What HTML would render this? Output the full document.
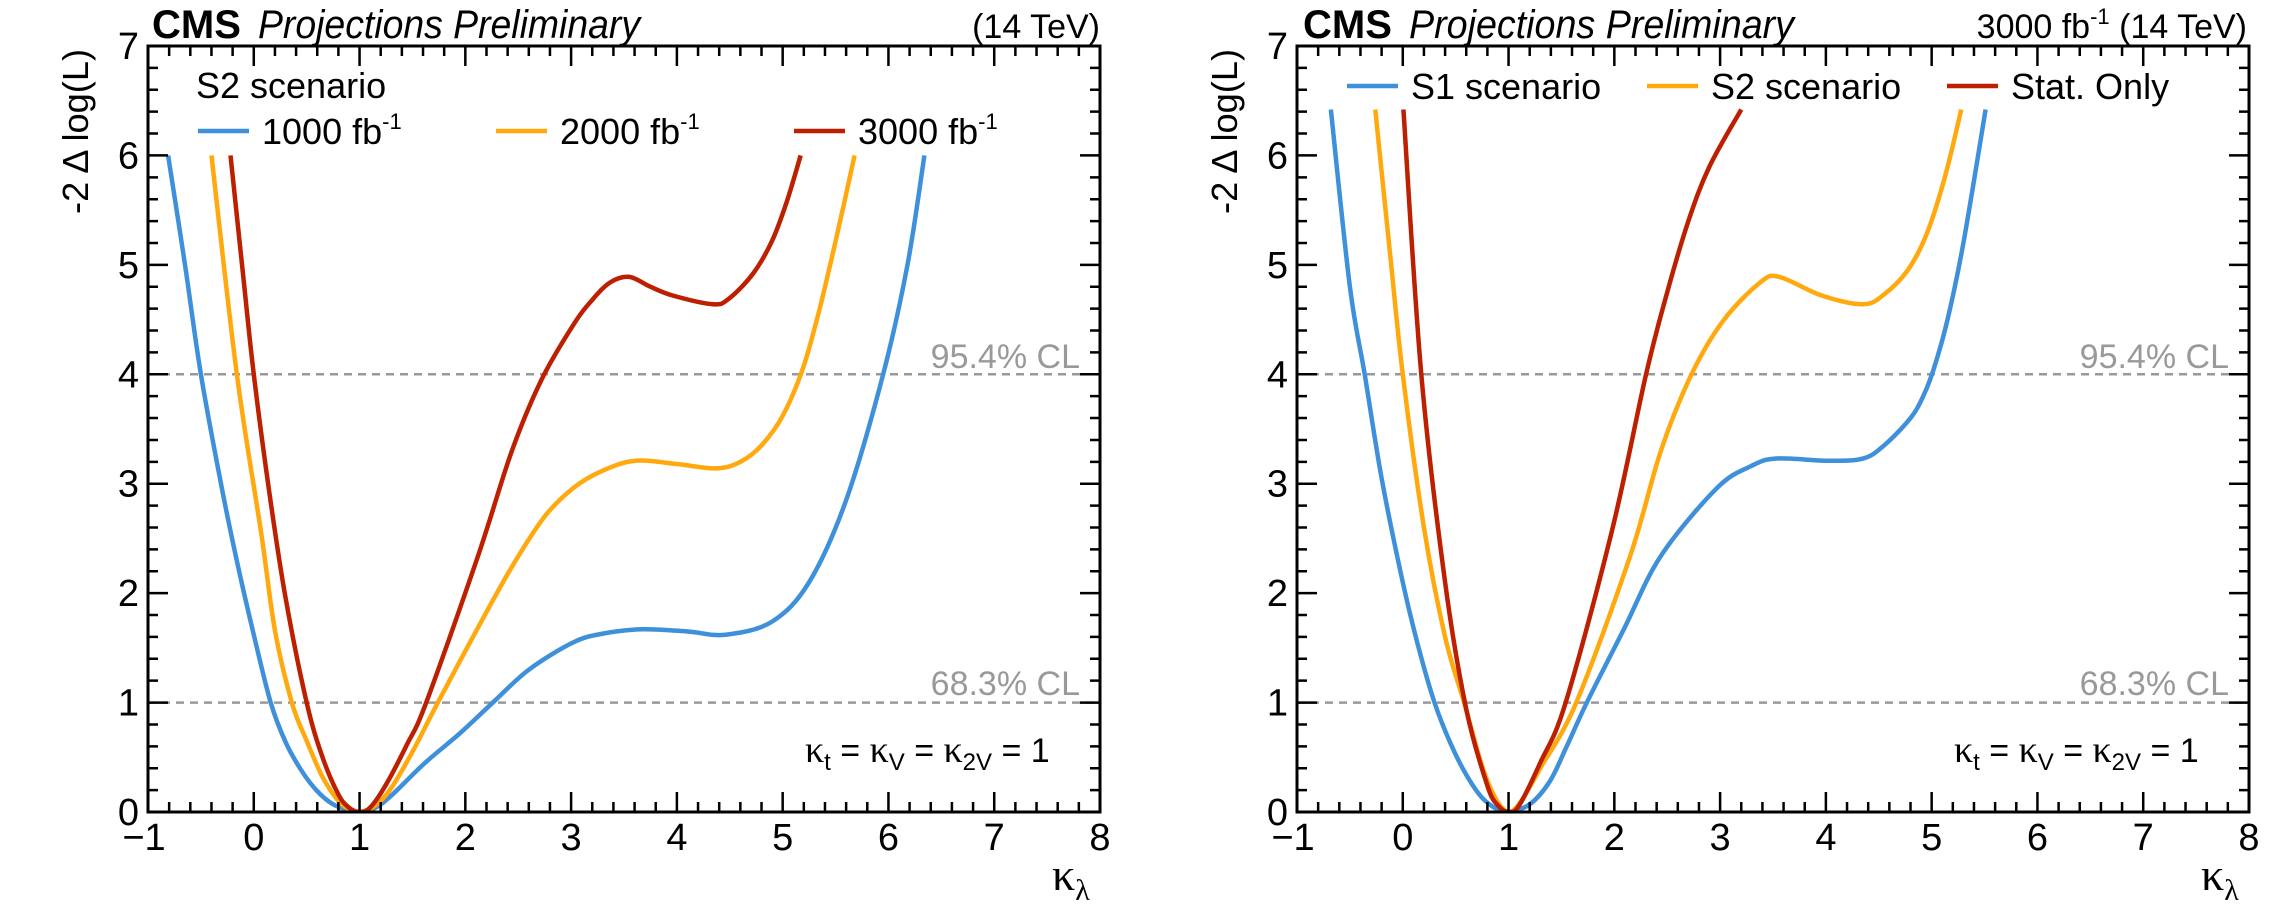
<!DOCTYPE html>
<html><head><meta charset="utf-8"><style>
html,body{margin:0;padding:0;background:#fff;}
svg{display:block;font-family:"Liberation Sans",Arial,sans-serif;}
</style></head><body>
<svg id="fig" width="2284" height="908" viewBox="0 0 2284 908" xmlns="http://www.w3.org/2000/svg">
<rect x="0" y="0" width="2284" height="908" fill="#fff"/>
<g id="layer"></g>

<text x="152" y="38" font-size="40" font-weight="bold">CMS</text>
<text x="258" y="38" font-size="40" font-style="italic" textLength="382" lengthAdjust="spacingAndGlyphs">Projections Preliminary</text>
<text x="1100" y="38" font-size="34" text-anchor="end">(14 TeV)</text>
<text transform="translate(88,49) rotate(-90)" font-size="36" text-anchor="end" textLength="165" lengthAdjust="spacingAndGlyphs">-2 Δ log(L)</text>
<text x="1052" y="890" font-size="46" font-family="Liberation Serif,serif">κ<tspan font-size="30" dy="10">λ</tspan></text>
<text x="196" y="98" font-size="36">S2 scenario</text>
<text x="1080" y="368" font-size="34" fill="#999" text-anchor="end">95.4% CL</text>
<text x="1080" y="695" font-size="34" fill="#999" text-anchor="end">68.3% CL</text>
<text x="805" y="762" font-size="34"><tspan font-family="Liberation Serif,serif" font-size="38">κ</tspan><tspan font-size="24" dy="8">t</tspan><tspan dy="-8"> = </tspan><tspan font-family="Liberation Serif,serif" font-size="38">κ</tspan><tspan font-size="24" dy="8">V</tspan><tspan dy="-8"> = </tspan><tspan font-family="Liberation Serif,serif" font-size="38">κ</tspan><tspan font-size="24" dy="8">2V</tspan><tspan dy="-8"> = 1</tspan></text>

<text x="1303" y="38" font-size="40" font-weight="bold">CMS</text>
<text x="1409" y="38" font-size="40" font-style="italic" textLength="385" lengthAdjust="spacingAndGlyphs">Projections Preliminary</text>
<text x="2247" y="38" font-size="34" text-anchor="end">3000 fb<tspan font-size="22" dy="-14">-1</tspan><tspan dy="14"> (14 TeV)</tspan></text>
<text transform="translate(1237,49) rotate(-90)" font-size="36" text-anchor="end" textLength="165" lengthAdjust="spacingAndGlyphs">-2 Δ log(L)</text>
<text x="2201" y="890" font-size="46" font-family="Liberation Serif,serif">κ<tspan font-size="30" dy="10">λ</tspan></text>
<text x="2229" y="368" font-size="34" fill="#999" text-anchor="end">95.4% CL</text>
<text x="2229" y="695" font-size="34" fill="#999" text-anchor="end">68.3% CL</text>
<text x="1954" y="762" font-size="34"><tspan font-family="Liberation Serif,serif" font-size="38">κ</tspan><tspan font-size="24" dy="8">t</tspan><tspan dy="-8"> = </tspan><tspan font-family="Liberation Serif,serif" font-size="38">κ</tspan><tspan font-size="24" dy="8">V</tspan><tspan dy="-8"> = </tspan><tspan font-family="Liberation Serif,serif" font-size="38">κ</tspan><tspan font-size="24" dy="8">2V</tspan><tspan dy="-8"> = 1</tspan></text>
</svg>
<script>
// ---- data ----
const xTicks = [-1,0,1,2,3,4,5,6,7,8];
const yTicks = [0,1,2,3,4,5,6,7];
const clLevels = [1,4];

const leftBlueX = [-0.81,-0.65,-0.5,-0.3,-0.15,0.0,0.16,0.3,0.45,0.6,0.75,0.9,1.0,1.15,1.3,1.62,1.95,2.26,2.6,3.02,3.3,3.67,4.1,4.46,4.9,5.25,5.6,5.95,6.18,6.34];
const leftBlueY = [6,5.0,4.0,2.95,2.25,1.62,1.0,0.64,0.38,0.19,0.07,0.015,0,0.04,0.15,0.45,0.72,1,1.3,1.55,1.63,1.67,1.65,1.62,1.74,2.1,2.85,4,5.0,6];
const leftOrangeX = [-0.40,-0.16,0.07,0.2,0.36,0.5,0.65,0.8,0.9,1.0,1.15,1.3,1.5,1.74,2.1,2.44,2.75,3.02,3.3,3.61,4.0,4.37,4.6,4.8,5.0,5.19,5.35,5.52,5.68];
const leftOrangeY = [6,4,2.55,1.66,1,0.65,0.32,0.1,0.03,0,0.06,0.22,0.55,1,1.65,2.24,2.7,2.96,3.12,3.21,3.18,3.14,3.2,3.35,3.62,4.05,4.6,5.3,6];
const leftRedX = [-0.22,-0.1,0.0,0.15,0.3,0.5,0.65,0.8,0.9,1.0,1.1,1.25,1.45,1.63,2.12,2.44,2.72,3.02,3.2,3.37,3.55,3.75,3.96,4.34,4.49,4.72,4.9,5.04,5.17];
const leftRedY = [6,4.9,4,2.9,1.96,1,0.5,0.16,0.04,0,0.04,0.25,0.62,1,2.34,3.3,3.95,4.45,4.68,4.84,4.89,4.8,4.72,4.64,4.69,4.92,5.22,5.58,6];

const rightBlueX = [-0.68,-0.5,-0.36,-0.2,0.0,0.15,0.3,0.45,0.6,0.75,0.9,1.0,1.2,1.39,1.55,1.74,2.09,2.44,2.97,3.29,3.53,4.02,4.35,4.55,4.8,4.92,5.02,5.15,5.3,5.51];
const rightBlueY = [6.42,4.8,4.0,3.05,2.1,1.5,1.0,0.63,0.34,0.13,0.02,0,0.07,0.28,0.6,1,1.67,2.34,2.96,3.16,3.23,3.21,3.23,3.35,3.6,3.8,4.05,4.5,5.2,6.42];
const rightOrangeX = [-0.26,-0.12,0.0,0.2,0.4,0.58,0.75,0.88,1.0,1.12,1.3,1.64,2.15,2.44,2.73,3.03,3.38,3.56,3.96,4.35,4.55,4.78,4.96,5.13,5.28];
const rightOrangeY = [6.42,5.1,4,2.6,1.6,1,0.42,0.12,0,0.1,0.4,1,2.34,3.3,4,4.49,4.84,4.89,4.72,4.64,4.73,4.96,5.3,5.82,6.42];
const rightRedX = [0.006,0.175,0.4,0.6,0.8,0.9,1.0,1.1,1.3,1.54,1.98,2.3,2.5,2.7,2.9,3.2];
const rightRedY = [6.42,4,2.1,0.94,0.24,0.06,0,0.06,0.45,1,2.58,4,4.75,5.4,5.9,6.42];

const BLUE = "#3f90da", ORANGE = "#ffa90e", RED = "#bd1f01";
const NS = "http://www.w3.org/2000/svg";
const layer = document.getElementById('layer');

function mk(tag, attrs, parent) {
  const e = document.createElementNS(NS, tag);
  for (const k in attrs) e.setAttribute(k, attrs[k]);
  (parent || layer).appendChild(e);
  return e;
}

function panel(id, left, right, top, bottom, series, legend) {
  const xmin = -1, xmax = 8, ymin = 0, ymax = 7;
  const sx = v => left + (v - xmin) / (xmax - xmin) * (right - left);
  const sy = v => bottom - (v - ymin) / (ymax - ymin) * (bottom - top);
  const g = mk('g', {});
  
  
  const cp = mk('clipPath', {id: id + '-clip'}, g);
  mk('rect', {x: left, y: top, width: right - left, height: bottom - top}, cp);
  clLevels.forEach(l => {
    const ln = mk('line', {x1: left, x2: right, y1: sy(l), y2: sy(l), stroke: '#999', 'stroke-width': 2.5, 'stroke-dasharray': '8 6'}, g);
    
    
  });
  series.forEach(s => {
    const px = s.x.map(sx), py = s.y.map(sy);
    let d = 'M' + px[0] + ',' + py[0];
    for (let i = 0; i < px.length - 1; i++) {
      const x0 = px[Math.max(i - 1, 0)], y0 = py[Math.max(i - 1, 0)];
      const x1 = px[i], y1 = py[i], x2 = px[i + 1], y2 = py[i + 1];
      const x3 = px[Math.min(i + 2, px.length - 1)], y3 = py[Math.min(i + 2, px.length - 1)];
      const t = 0.5 / 3;
      d += ' C' + (x1 + (x2 - x0) * t) + ',' + (y1 + (y2 - y0) * t) + ' ' + (x2 - (x3 - x1) * t) + ',' + (y2 - (y3 - y1) * t) + ' ' + x2 + ',' + y2;
    }
    const p = mk('path', {d: d, fill: 'none', stroke: s.color, 'stroke-width': 4.5, 'stroke-linejoin': 'round', 'clip-path': 'url(#' + id + '-clip)'}, g);
    
    
  });
  const fr = mk('rect', {x: left, y: top, width: right - left, height: bottom - top, fill: 'none', stroke: '#000', 'stroke-width': 3}, g);
  
  
  let td = '';
  for (let v = xmin; v <= xmax + 1e-9; v += 0.2) {
    const X = sx(v), major = Math.abs(v - Math.round(v)) < 1e-6, L = major ? 20 : 10;
    td += 'M' + X + ',' + bottom + 'v' + (-L) + 'M' + X + ',' + top + 'v' + L;
  }
  for (let v = ymin; v <= ymax + 1e-9; v += 0.2) {
    const Y = sy(v), major = Math.abs(v - Math.round(v)) < 1e-6, L = major ? 20 : 10;
    td += 'M' + left + ',' + Y + 'h' + L + 'M' + right + ',' + Y + 'h' + (-L);
  }
  const tk = mk('path', {d: td, stroke: '#000', 'stroke-width': 2.5, fill: 'none'}, g);
  
  
  xTicks.forEach(v => {
    const t = mk('text', {x: sx(v) - (v < 0 ? 4 : 0), y: 850, 'font-size': 38, 'text-anchor': 'middle'}, g);
    t.textContent = v < 0 ? '\u2212' + Math.abs(v) : String(v);
    
    
  });
  yTicks.forEach(v => {
    const t = mk('text', {x: left - 9, y: sy(v) + 13, 'font-size': 38, 'text-anchor': 'end'}, g);
    t.textContent = String(v);
    
    
  });
  legend.forEach(e => {
    const ln = mk('line', {x1: e.x, x2: e.x + 51, y1: e.y, y2: e.y, stroke: e.color, 'stroke-width': 4.5}, g);
    
    
    const t = mk('text', {x: e.x + 64, y: e.y + 13, 'font-size': 36}, g);
    
    
    t.appendChild(document.createTextNode(e.label));
    if (e.sup) {
      const s1 = mk('tspan', {'font-size': 22, dy: -15}, t);
      s1.textContent = e.sup;
    }
  });
}

panel('left', 148, 1100, 46, 812, [
  {name: 'curve-1000fb', x: leftBlueX, y: leftBlueY, color: BLUE},
  {name: 'curve-2000fb', x: leftOrangeX, y: leftOrangeY, color: ORANGE},
  {name: 'curve-3000fb', x: leftRedX, y: leftRedY, color: RED}
], [
  {x: 198, y: 131, color: BLUE, label: '1000 fb', sup: '-1'},
  {x: 496, y: 131, color: ORANGE, label: '2000 fb', sup: '-1'},
  {x: 794, y: 131, color: RED, label: '3000 fb', sup: '-1'}
]);

panel('right', 1297, 2249, 46, 812, [
  {name: 'curve-s1', x: rightBlueX, y: rightBlueY, color: BLUE},
  {name: 'curve-s2', x: rightOrangeX, y: rightOrangeY, color: ORANGE},
  {name: 'curve-stat-only', x: rightRedX, y: rightRedY, color: RED}
], [
  {x: 1347, y: 86, color: BLUE, label: 'S1 scenario'},
  {x: 1647, y: 86, color: ORANGE, label: 'S2 scenario'},
  {x: 1947, y: 86, color: RED, label: 'Stat. Only'}
]);
</script>
</body></html>
